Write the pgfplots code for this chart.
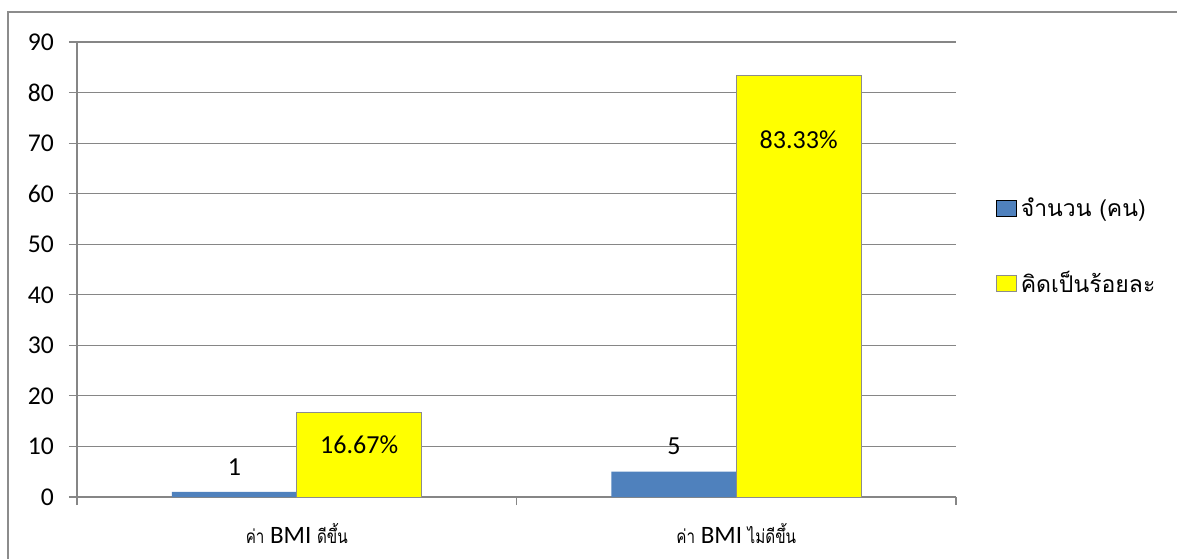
\documentclass[border=0pt]{standalone}
\usepackage{pgfplots}
\pgfplotsset{compat=1.18}
\usepackage{fontspec}
\setmainfont{Carlito}
\newfontfamily\thaifont[Script=Thai]{Loma}
\newfontfamily\thaismall[Script=Thai, FakeStretch=0.8]{Loma}
% Thai words inside the category labels
\newcommand{\thaiword}[1]{{\thaismall\fontsize{9.5}{12}\selectfont #1}}

\definecolor{barblue}{HTML}{4F81BD}
\definecolor{baryellow}{HTML}{FFFF00}
\definecolor{gridgray}{HTML}{868686}
\definecolor{framegray}{HTML}{8C8C8C}

\begin{document}
\begin{tikzpicture}
% page area and outer chart frame
\path[use as bounding box] (0pt,0pt) rectangle (588.5pt,279.5pt);
\draw[framegray, line width=0.8pt] (4pt,0pt) -- (4pt,273.5pt) -- (588.5pt,273.5pt);

\begin{axis}[
  at={(38.5pt,31pt)}, anchor=south west,
  scale only axis, width=439.5pt, height=227.5pt,
  xmin=-0.5, xmax=1.5, ymin=0, ymax=90,
  ytick={0,10,...,90},
  xtick={0,1},
  xticklabels={\thaiword{ค่า} BMI \thaiword{ดีขึ้น}, \thaiword{ค่า} BMI \thaiword{ไม่ดีขึ้น}},
  minor xtick={-0.5,0.5,1.5},
  major x tick style={draw=none},
  axis lines=left,
  axis line style={-, gridgray, line width=0.6pt},
  tick style={gridgray, line width=0.6pt},
  tick align=outside,
  major tick length=4pt, minor tick length=4pt,
  ymajorgrids, grid style={gridgray, line width=0.6pt},
  /pgf/number format/assume math mode=true,
  yticklabel style={font=\fontsize{12.8}{15}\selectfont, anchor=east, xshift=-4pt},
  xticklabel style={font=\fontsize{12.5}{14}\selectfont, anchor=base, yshift=-19pt},
  ybar, bar width=0.284,
  legend style={at={(1.038,0.5505)}, anchor=west, draw=none, fill=none,
    font=\fontsize{11.5}{14}\selectfont\thaifont, row sep=22pt,
    /tikz/every even column/.append style={column sep=2pt}},
  legend cell align=left,
  legend image code/.code={\draw[#1] (0pt,-4pt) rectangle (10pt,4pt);},
  clip=false,
]
\addplot[fill=barblue, draw=none, bar shift=-0.142,
  nodes near coords,
  every node near coord/.append style={anchor=center, yshift=12.5pt, font=\fontsize{13}{15}\selectfont, black}]
  coordinates {(0,1) (1,5)};
\addlegendentry{จำนวน (คน)}
\addplot[fill=baryellow, draw=framegray, line width=0.5pt, bar shift=0.142]
  coordinates {(0,16.67) (1,83.33)};
\addlegendentry{คิดเป็นร้อยละ}

\node[font=\fontsize{13}{15}\selectfont] at (axis cs:0.142,10.3) {16.67\%};
\node[font=\fontsize{13}{15}\selectfont] at (axis cs:1.142,70.6) {83.33\%};
\end{axis}
\end{tikzpicture}
\end{document}
